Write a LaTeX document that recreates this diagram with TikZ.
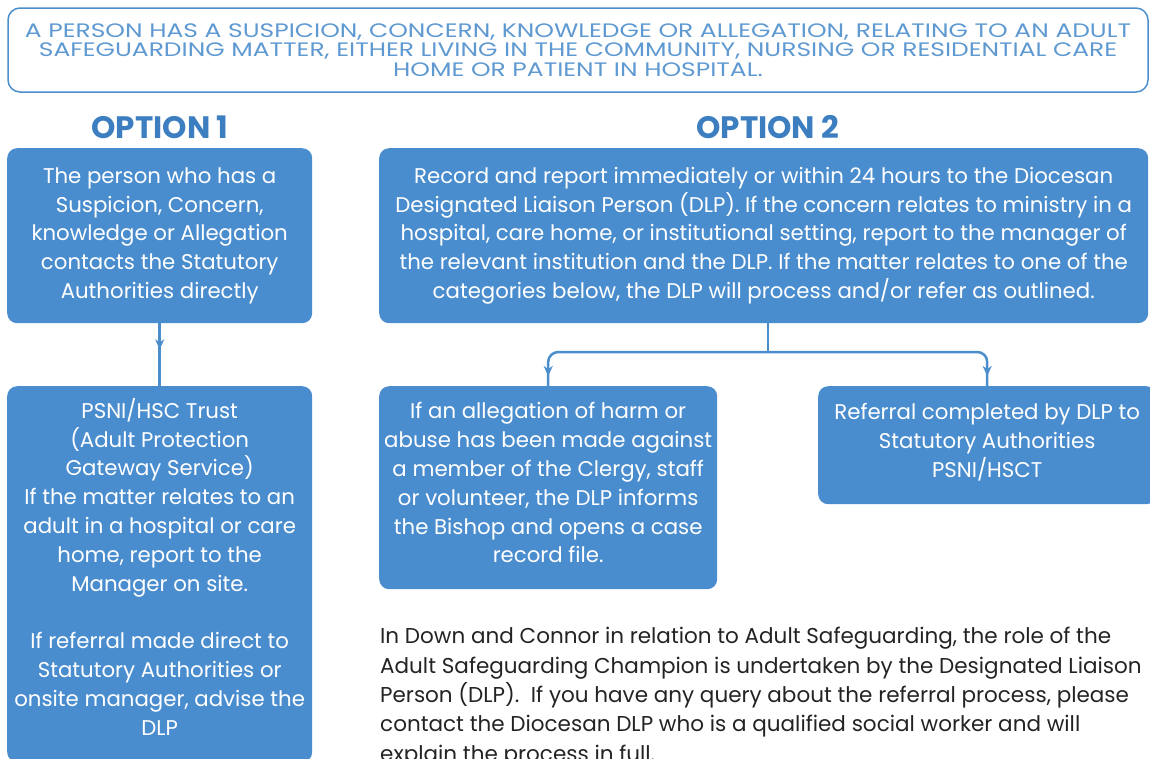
\documentclass[tikz,border=0pt]{standalone}
\usepackage{fontspec}
\setmainfont{Poppins}
\newfontfamily\widefont[FakeStretch=1.28]{Poppins}
\usetikzlibrary{arrows.meta,decorations.markings}

\definecolor{boxblue}{RGB}{74,141,206}
\definecolor{headblue}{RGB}{60,126,192}
\definecolor{lineblue}{RGB}{76,142,204}
\definecolor{bodygrey}{RGB}{35,35,35}

\tikzset{
  bluebox/.style={fill=boxblue, rounded corners=10pt, text=white, align=center,
    inner sep=0pt, anchor=north west, font=\fontsize{21.3}{28.8}\selectfont},
  optionhead/.style={text=headblue, font=\fontsize{31}{34}\selectfont\bfseries},
  link/.style={color=lineblue, line width=2.5pt},
  tipat/.style={postaction={decorate}, decoration={markings,
    mark=at position #1 with {\arrow{Stealth[length=10pt,width=9pt,inset=3pt]}}}},
}

\begin{document}
\begin{tikzpicture}[x=1pt, y=-1pt]
\useasboundingbox (0,0) rectangle (1150,758);
\clip (0,0) rectangle (1150,758);

% heading across the top
\node [draw=lineblue, line width=1.5pt, rounded corners=12pt, minimum width=1140,
  minimum height=84, text=lineblue!90!white, align=center, inner sep=0pt,
  font=\widefont\fontsize{19.5}{19.5}\selectfont] (concern) at (578,50)
  {A PERSON HAS A SUSPICION, CONCERN, KNOWLEDGE OR ALLEGATION, RELATING TO AN ADULT\\
   SAFEGUARDING MATTER, EITHER LIVING IN THE COMMUNITY, NURSING OR RESIDENTIAL CARE\\
   HOME OR PATIENT IN HOSPITAL.};

\node [optionhead] (head1) at (160,127) {OPTION 1};
\node [optionhead] (head2) at (768,127) {OPTION 2};

% option 1
\node [bluebox, minimum width=305, minimum height=175] (opt1) at (7,148)
  {The person who has a\\ Suspicion, Concern,\\ knowledge or Allegation\\
   contacts the Statutory\\ Authorities directly};
\node [bluebox, minimum width=305, minimum height=376, text depth=15pt] (psni) at (7,386)
  {PSNI/HSC Trust\\ (Adult Protection\\ Gateway Service)\\
   If the matter relates to an\\ adult in a hospital or care\\
   home, report to the\\ Manager on site.\\[28.8pt]
   If referral made direct to\\ Statutory Authorities or\\
   onsite manager, advise the\\ DLP};

% option 2
\node [bluebox, minimum width=769, minimum height=175] (opt2) at (379,148)
  {Record and report immediately or within 24 hours to the Diocesan\\
   Designated Liaison Person (DLP). If the concern relates to ministry in a\\
   hospital, care home, or institutional setting, report to the manager of\\
   the relevant institution and the DLP. If the matter relates to one of the\\
   categories below, the DLP will process and/or refer as outlined.};
\node [bluebox, minimum width=338, minimum height=203, text depth=10pt] (abuse) at (379,386)
  {If an allegation of harm or\\ abuse has been made against\\
   a member of the Clergy, staff\\ or volunteer, the DLP informs\\
   the Bishop and opens a case\\ record file.};
\node [bluebox, minimum width=338, minimum height=118, text depth=10pt] (referral) at (818,386)
  {Referral completed by DLP to\\ Statutory Authorities\\ PSNI/HSCT};

\node [anchor=north west, align=left, inner sep=0pt, text=bodygrey,
  font=\fontsize{21.5}{29.4}\selectfont] (note) at (380,627)
  {In Down and Connor in relation to Adult Safeguarding, the role of the\\
   Adult Safeguarding Champion is undertaken by the Designated Liaison\\
   Person (DLP).\ \ If you have any query about the referral process, please\\
   contact the Diocesan DLP who is a qualified social worker and will\\
   explain the process in full.};

% connectors
\coordinate (split) at (768,352);
\draw [link, tipat=26pt] (opt1) -- (psni);
\draw [link] (split |- opt2.south) -- (split);
\draw [link, rounded corners=10pt, tipat=-10pt] (split) -| (abuse.north);
\draw [link, rounded corners=10pt, tipat=-10pt] (split) -| (referral.north);
\end{tikzpicture}
\end{document}
